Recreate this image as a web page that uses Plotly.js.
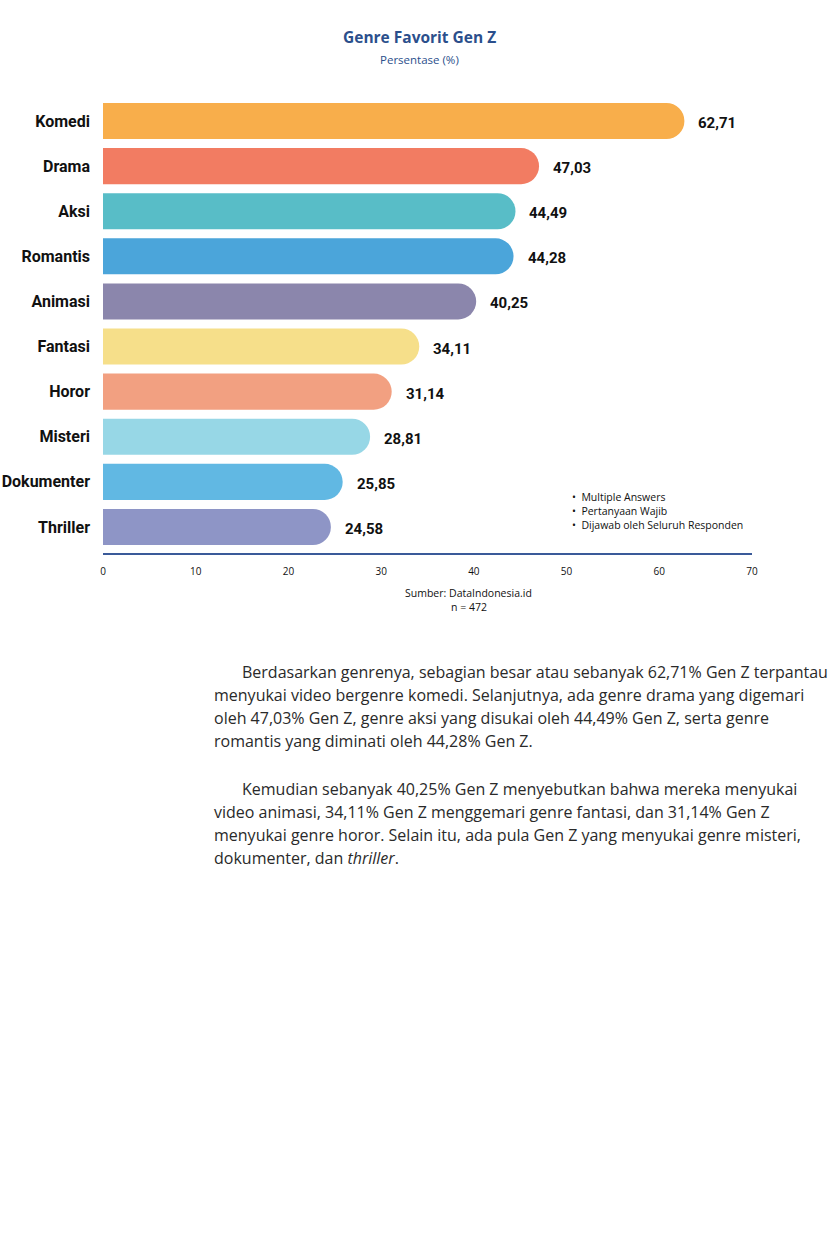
<!DOCTYPE html>
<html><head><meta charset="utf-8">
<script src="https://cdn.plot.ly/plotly-3.0.1.min.js"></script>
<style>html,body{margin:0;padding:0;background:#fff}#chart{width:835px;height:1252px}</style>
</head><body><div id="chart"></div>
<script>
const genres = ["Komedi","Drama","Aksi","Romantis","Animasi","Fantasi","Horor","Misteri","Dokumenter","Thriller"];
const values = [62.71,47.03,44.49,44.28,40.25,34.11,31.14,28.81,25.85,24.58];
const barColors = ["#F8AE4B","#F27C62","#58BDC7","#4BA5DA","#8B86AC","#F6DF8A","#F2A081","#97D7E6","#61B8E3","#8E95C6"];
const xTicks = [0,10,20,30,40,50,60,70];
const notes = ["•  Multiple Answers","•  Pertanyaan Wajib","•  Dijawab oleh Seluruh Responden"];
const sourceLines = ["Sumber: DataIndonesia.id","n = 472"];
const para1 = ["Berdasarkan genrenya, sebagian besar atau sebanyak 62,71% Gen Z terpantau",
 "menyukai video bergenre komedi. Selanjutnya, ada genre drama yang digemari",
 "oleh 47,03% Gen Z, genre aksi yang disukai oleh 44,49% Gen Z, serta genre",
 "romantis yang diminati oleh 44,28% Gen Z."];
const para2 = ["Kemudian sebanyak 40,25% Gen Z menyebutkan bahwa mereka menyukai",
 "video animasi, 34,11% Gen Z menggemari genre fantasi, dan 31,14% Gen Z",
 "menyukai genre horor. Selain itu, ada pula Gen Z yang menyukai genre misteri,",
 "dokumenter, dan <i>thriller</i>."];

const W = 835, H = 1252, L = 103, R = 752, T = 98, B = 553;
const px = x => (x - L) / (R - L);
const py = y => (B - y) / (B - T);
const fmt = v => v.toFixed(2).replace('.', ',');

const annotations = [];
genres.forEach((g, i) => annotations.push({
  x: values[i], y: g, xref: 'x', yref: 'y', text: fmt(values[i]), showarrow: false,
  xanchor: 'left', xshift: 12, yshift: -2,
  font: {family: 'Roboto', size: 15, color: '#111', weight: 700}
}));
notes.forEach((t, i) => annotations.push({
  x: px(570), y: py(497 + i * 14), xref: 'paper', yref: 'paper', text: t, showarrow: false,
  xanchor: 'left', yanchor: 'middle', font: {family: 'Open Sans', size: 10.5, color: '#111'}
}));
sourceLines.forEach((t, i) => annotations.push({
  x: px(469), y: py(593 + i * 14), xref: 'paper', yref: 'paper', text: t, showarrow: false,
  xanchor: 'center', yanchor: 'middle', font: {family: 'Open Sans', size: 10.5, color: '#111'}
}));
annotations.push({x: px(419), y: py(37), xref: 'paper', yref: 'paper', text: '<b>Genre Favorit Gen Z</b>',
  showarrow: false, xanchor: 'center', yanchor: 'middle', font: {family: 'Open Sans', size: 15.5, color: '#2B4F8C'}});
annotations.push({x: px(419), y: py(59), xref: 'paper', yref: 'paper', text: 'Persentase (%)',
  showarrow: false, xanchor: 'center', yanchor: 'middle', font: {family: 'Open Sans', size: 11.5, color: '#2B4F8C'}});
const paraFont = {family: 'Open Sans', size: 16, color: '#2a2a2a'};
para1.forEach((t, i) => annotations.push({
  x: px(i === 0 ? 240 : 212), y: py(672 + i * 23), xref: 'paper', yref: 'paper', text: t, showarrow: false,
  xanchor: 'left', yanchor: 'middle', font: paraFont
}));
para2.forEach((t, i) => annotations.push({
  x: px(i === 0 ? 240 : 212), y: py(789 + i * 23), xref: 'paper', yref: 'paper', text: t, showarrow: false,
  xanchor: 'left', yanchor: 'middle', font: paraFont
}));

const trace = {
  type: 'bar', orientation: 'h', x: values, y: genres,
  marker: {color: barColors, cornerradius: 18, line: {width: 0}},
  hoverinfo: 'skip'
};
const layout = {
  width: W, height: H, paper_bgcolor: '#fff', plot_bgcolor: '#fff',
  margin: {l: L, r: W - R, t: T, b: H - B, pad: 0},
  showlegend: false, bargap: 0.2,
  xaxis: {range: [0, 70], tickvals: xTicks, ticktext: xTicks.map(String), showgrid: false, zeroline: false,
    showline: true, linecolor: '#3A5A99', linewidth: 2, ticks: '', ticklabelstandoff: 8,
    tickfont: {family: 'Open Sans', size: 10, color: '#111'}, fixedrange: true},
  yaxis: {type: 'category', categoryorder: 'array', categoryarray: genres, range: [9.577, -0.51],
    showgrid: false, zeroline: false, showline: false, ticks: '', ticklabelstandoff: 12,
    tickfont: {family: 'Roboto', size: 16, color: '#111', weight: 700}, fixedrange: true},
  annotations: annotations
};
Plotly.newPlot('chart', [trace], layout, {displayModeBar: false, staticPlot: true});
</script></body></html>
